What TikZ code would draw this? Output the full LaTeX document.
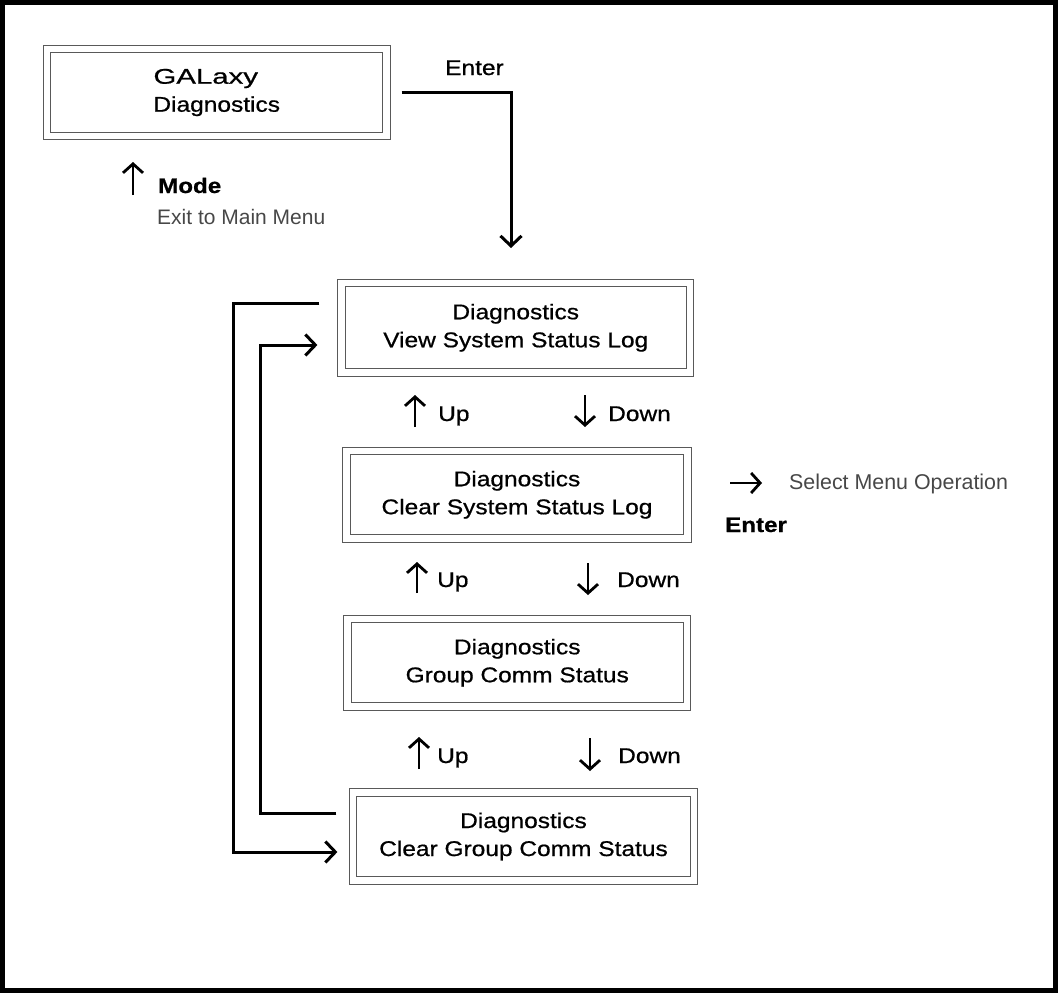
\documentclass[tikz,border=0pt]{standalone}
\usepackage{fontspec}
\setmainfont{Liberation Sans}
\newfontfamily\labelfont[FakeStretch=1.15,FakeBold=0.7]{Liberation Sans}
\usetikzlibrary{arrows.meta,calc}

\begin{document}
\begin{tikzpicture}[x=1pt,y=-1pt,
  menubox/.style={draw=black!65, double, double distance=6.2pt, line width=1.2pt,
    inner sep=0pt, align=center, font={\labelfont\fontsize{21.3}{28}\selectfont}},
  conn/.style={line width=3pt, -{Straight Barb[length=10pt,width=21pt]}},
  glyph/.style={line width=2.8pt, -{Straight Barb[length=9pt,width=20pt]}},
  key/.style={anchor=base west, inner sep=0pt, font={\labelfont\fontsize{21.3}{28}\selectfont}},
  keybold/.style={key, font={\labelfont\bfseries\fontsize{21}{28}\selectfont}},
  note/.style={anchor=base west, inner sep=0pt, text=black!72, font={\fontsize{21}{26}\selectfont}}
]
\useasboundingbox (0,0) rectangle (1058,993);
\draw[line width=5pt] (2.5,2.5) rectangle (1055.5,990.5);

% menu screens
\node[menubox, minimum width=339.5pt, minimum height=87pt] (b1) at (216.75,92.5) {\kern-22pt\scalebox{1.2}[1]{GALaxy}\\Diagnostics};
\node[menubox, minimum width=348.5pt, minimum height=89.5pt] (b2) at (515.75,327.75) {Diagnostics\\View System Status Log};
\node[menubox, minimum width=341pt, minimum height=87.5pt] (b3) at (517,494.75) {Diagnostics\\Clear System Status Log};
\node[menubox, minimum width=339.5pt, minimum height=87.5pt] (b4) at (517.25,662.75) {Diagnostics\\Group Comm Status};
\node[menubox, minimum width=341pt, minimum height=88pt] (b5) at (523.5,836.5) {Diagnostics\\Clear Group Comm Status};

% entering the diagnostics menu
\node[key] (enter1) at (445,75) {Enter};
\coordinate (entertip) at (511,248);
\draw[conn, shorten <=14.5pt] (b1.east) -| (entertip);

% exit with Mode
\node[keybold] (mode) at (158,193) {Mode};
\draw[glyph] ([shift={(-25,2)}]mode.base west) -- ++(0,-33);
\node[note] (exit) at (157,224) {Exit to Main Menu};

% wrap-around connectors
\coordinate (a1) at ([shift={(-21.5,-24.75)}]b2.west);
\coordinate (a2) at ([shift={(-15,15.5)}]b5.west);
\coordinate (railA) at (233,0);
\draw[conn] (a1) -- (a1 -| railA) -- (a2 -| railA) -- (a2);
\coordinate (c1) at ([shift={(-16,-23.5)}]b5.west);
\coordinate (c2) at ([shift={(-23.5,17.25)}]b2.west);
\coordinate (railB) at (260,0);
\draw[conn] (c1) -- (c1 -| railB) -- (c2 -| railB) -- (c2);

% Up / Down keys
\node[key] (up1) at (438,421) {Up};
\draw[glyph] ([shift={(-23,6)}]up1.base west) -- ++(0,-32);
\node[key] (down1) at (608,421) {Down};
\draw[glyph] ([shift={(-23,-26)}]down1.base west) -- ++(0,32);
\node[key] (up2) at (437,587) {Up};
\draw[glyph] ([shift={(-20,6)}]up2.base west) -- ++(0,-31);
\node[key] (down2) at (617,587) {Down};
\draw[glyph] ([shift={(-29,-24)}]down2.base west) -- ++(0,32);
\node[key] (up3) at (437,763) {Up};
\draw[glyph] ([shift={(-18,6)}]up3.base west) -- ++(0,-32);
\node[key] (down3) at (618,763) {Down};
\draw[glyph] ([shift={(-28,-25)}]down3.base west) -- ++(0,33);

% selecting an operation
\node[note, font={\fontsize{21.4}{26}\selectfont}] (select) at (789,489) {Select Menu Operation};
\draw[glyph] ([shift={(-59,-6)}]select.base west) -- ++(32,0);
\node[keybold] (enter2) at (725,532) {Enter};
\end{tikzpicture}
\end{document}
